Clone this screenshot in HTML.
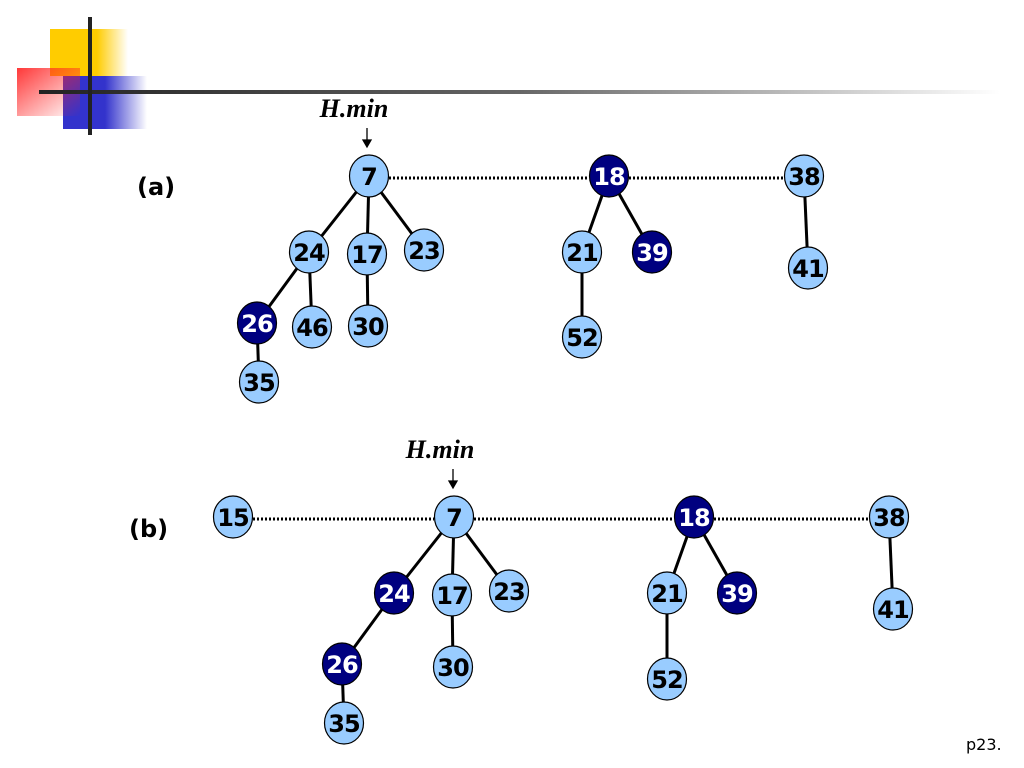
<!DOCTYPE html>
<html><head><meta charset="utf-8"><style>
html,body{margin:0;padding:0;background:#fff;width:1024px;height:768px;overflow:hidden}
svg{display:block}
.n{font-family:"DejaVu Sans","Liberation Sans",sans-serif;font-weight:bold;font-size:24px;text-anchor:middle;letter-spacing:-1px}
.lab{font-family:"DejaVu Sans","Liberation Sans",sans-serif;font-weight:bold;font-size:24px}
.hm{font-family:"Liberation Serif",serif;font-weight:bold;font-style:italic;font-size:26px;text-anchor:middle}
</style></head><body>
<svg width="1024" height="768" viewBox="0 0 1024 768">
<defs>
<linearGradient id="gy" x1="0" x2="1"><stop offset="0.6" stop-color="#ffcc00"/><stop offset="1" stop-color="#ffcc00" stop-opacity="0"/></linearGradient>
<linearGradient id="gr" x1="0" x2="1" y1="0" y2="1"><stop offset="0" stop-color="#ff2222"/><stop offset="1" stop-color="#ff2222" stop-opacity="0"/></linearGradient>
<linearGradient id="gb" x1="0" x2="1"><stop offset="0.5" stop-color="#3333cc"/><stop offset="1" stop-color="#3333cc" stop-opacity="0"/></linearGradient>
<linearGradient id="gl" x1="0" x2="1"><stop offset="0" stop-color="#222"/><stop offset="0.5" stop-color="#666"/><stop offset="1" stop-color="#fff"/></linearGradient>
</defs>
<rect x="50" y="29" width="78" height="47" fill="url(#gy)"/>
<rect x="63" y="76" width="84" height="53" fill="url(#gb)"/>
<rect x="17" y="68" width="63" height="48" fill="url(#gr)" opacity="0.9"/>
<rect x="39" y="90" width="961" height="4" fill="url(#gl)"/>
<rect x="88" y="17" width="4" height="118" fill="#222"/>

<text class="lab" x="137" y="195">(a)</text>
<text class="lab" x="129" y="537">(b)</text>
<text class="hm" x="354" y="117">H.min</text>
<text class="hm" x="440" y="458">H.min</text>
<g stroke="#000" stroke-width="1.3" fill="#000">
<line x1="367" y1="128" x2="367" y2="144"/><path d="M363,140 L367,147 L371,140 Z"/>
<line x1="453" y1="469" x2="453" y2="485"/><path d="M449,481 L453,488 L457,481 Z"/>
</g>
<g stroke="#000" stroke-width="3" stroke-dasharray="2,2">
<line x1="389" y1="178" x2="589" y2="178"/>
<line x1="629" y1="178" x2="784" y2="178"/>
<line x1="253" y1="519" x2="434" y2="519"/>
<line x1="474" y1="519" x2="674" y2="519"/>
<line x1="714" y1="519" x2="869" y2="519"/>
</g>
<g stroke="#000" stroke-width="3">
<line x1="369" y1="176" x2="309" y2="252"/><line x1="369" y1="176" x2="367" y2="254"/><line x1="369" y1="176" x2="424" y2="250"/>
<line x1="309" y1="252" x2="257" y2="323"/><line x1="309" y1="252" x2="312" y2="327"/><line x1="367" y1="254" x2="368" y2="326"/>
<line x1="257" y1="323" x2="259" y2="382"/>
<line x1="609" y1="176" x2="582" y2="252"/><line x1="609" y1="176" x2="652" y2="252"/><line x1="582" y1="252" x2="582" y2="337"/>
<line x1="804" y1="176" x2="808" y2="268"/>
<line x1="454" y1="517" x2="394" y2="593"/><line x1="454" y1="517" x2="452" y2="595"/><line x1="454" y1="517" x2="509" y2="591"/>
<line x1="394" y1="593" x2="342" y2="664"/><line x1="452" y1="595" x2="453" y2="667"/><line x1="342" y1="664" x2="344" y2="723"/>
<line x1="694" y1="517" x2="667" y2="593"/><line x1="694" y1="517" x2="737" y2="593"/><line x1="667" y1="593" x2="667" y2="679"/>
<line x1="889" y1="517" x2="893" y2="609"/>
</g>
<g stroke="#000" stroke-width="1.2">
<g fill="#99ccff">
<ellipse cx="369" cy="176" rx="19.5" ry="21"/><ellipse cx="804" cy="176" rx="19.5" ry="21"/>
<ellipse cx="309" cy="252" rx="19.5" ry="21"/><ellipse cx="367" cy="254" rx="19.5" ry="21"/><ellipse cx="424" cy="250" rx="19.5" ry="21"/>
<ellipse cx="312" cy="327" rx="19.5" ry="21"/><ellipse cx="368" cy="326" rx="19.5" ry="21"/><ellipse cx="259" cy="382" rx="19.5" ry="21"/>
<ellipse cx="582" cy="252" rx="19.5" ry="21"/><ellipse cx="582" cy="337" rx="19.5" ry="21"/><ellipse cx="808" cy="268" rx="19.5" ry="21"/>
<ellipse cx="233" cy="517" rx="19.5" ry="21"/><ellipse cx="454" cy="517" rx="19.5" ry="21"/><ellipse cx="889" cy="517" rx="19.5" ry="21"/>
<ellipse cx="452" cy="595" rx="19.5" ry="21"/><ellipse cx="509" cy="591" rx="19.5" ry="21"/><ellipse cx="453" cy="667" rx="19.5" ry="21"/>
<ellipse cx="344" cy="723" rx="19.5" ry="21"/><ellipse cx="667" cy="593" rx="19.5" ry="21"/><ellipse cx="667" cy="679" rx="19.5" ry="21"/>
<ellipse cx="893" cy="609" rx="19.5" ry="21"/>
</g>
<g fill="#000080">
<ellipse cx="609" cy="176" rx="19.5" ry="21"/><ellipse cx="257" cy="323" rx="19.5" ry="21"/><ellipse cx="652" cy="252" rx="19.5" ry="21"/>
<ellipse cx="694" cy="517" rx="19.5" ry="21"/><ellipse cx="394" cy="593" rx="19.5" ry="21"/><ellipse cx="342" cy="664" rx="19.5" ry="21"/>
<ellipse cx="737" cy="593" rx="19.5" ry="21"/>
</g>
</g>
<g class="n" fill="#000">
<text x="369" y="185">7</text><text x="804" y="185">38</text>
<text x="309" y="261">24</text><text x="367" y="263">17</text><text x="424" y="259">23</text>
<text x="312" y="336">46</text><text x="368" y="335">30</text><text x="259" y="391">35</text>
<text x="582" y="261">21</text><text x="582" y="346">52</text><text x="808" y="277">41</text>
<text x="233" y="526">15</text><text x="454" y="526">7</text><text x="889" y="526">38</text>
<text x="452" y="604">17</text><text x="509" y="600">23</text><text x="453" y="676">30</text>
<text x="344" y="732">35</text><text x="667" y="602">21</text><text x="667" y="688">52</text><text x="893" y="618">41</text>
</g>
<g class="n" fill="#fff">
<text x="609" y="185">18</text><text x="257" y="332">26</text><text x="652" y="261">39</text>
<text x="694" y="526">18</text><text x="394" y="602">24</text><text x="342" y="673">26</text><text x="737" y="602">39</text>
</g>
<text x="966" y="750" font-family="DejaVu Sans,sans-serif" font-size="16" fill="#000">p23.</text>
</svg>
</body></html>
